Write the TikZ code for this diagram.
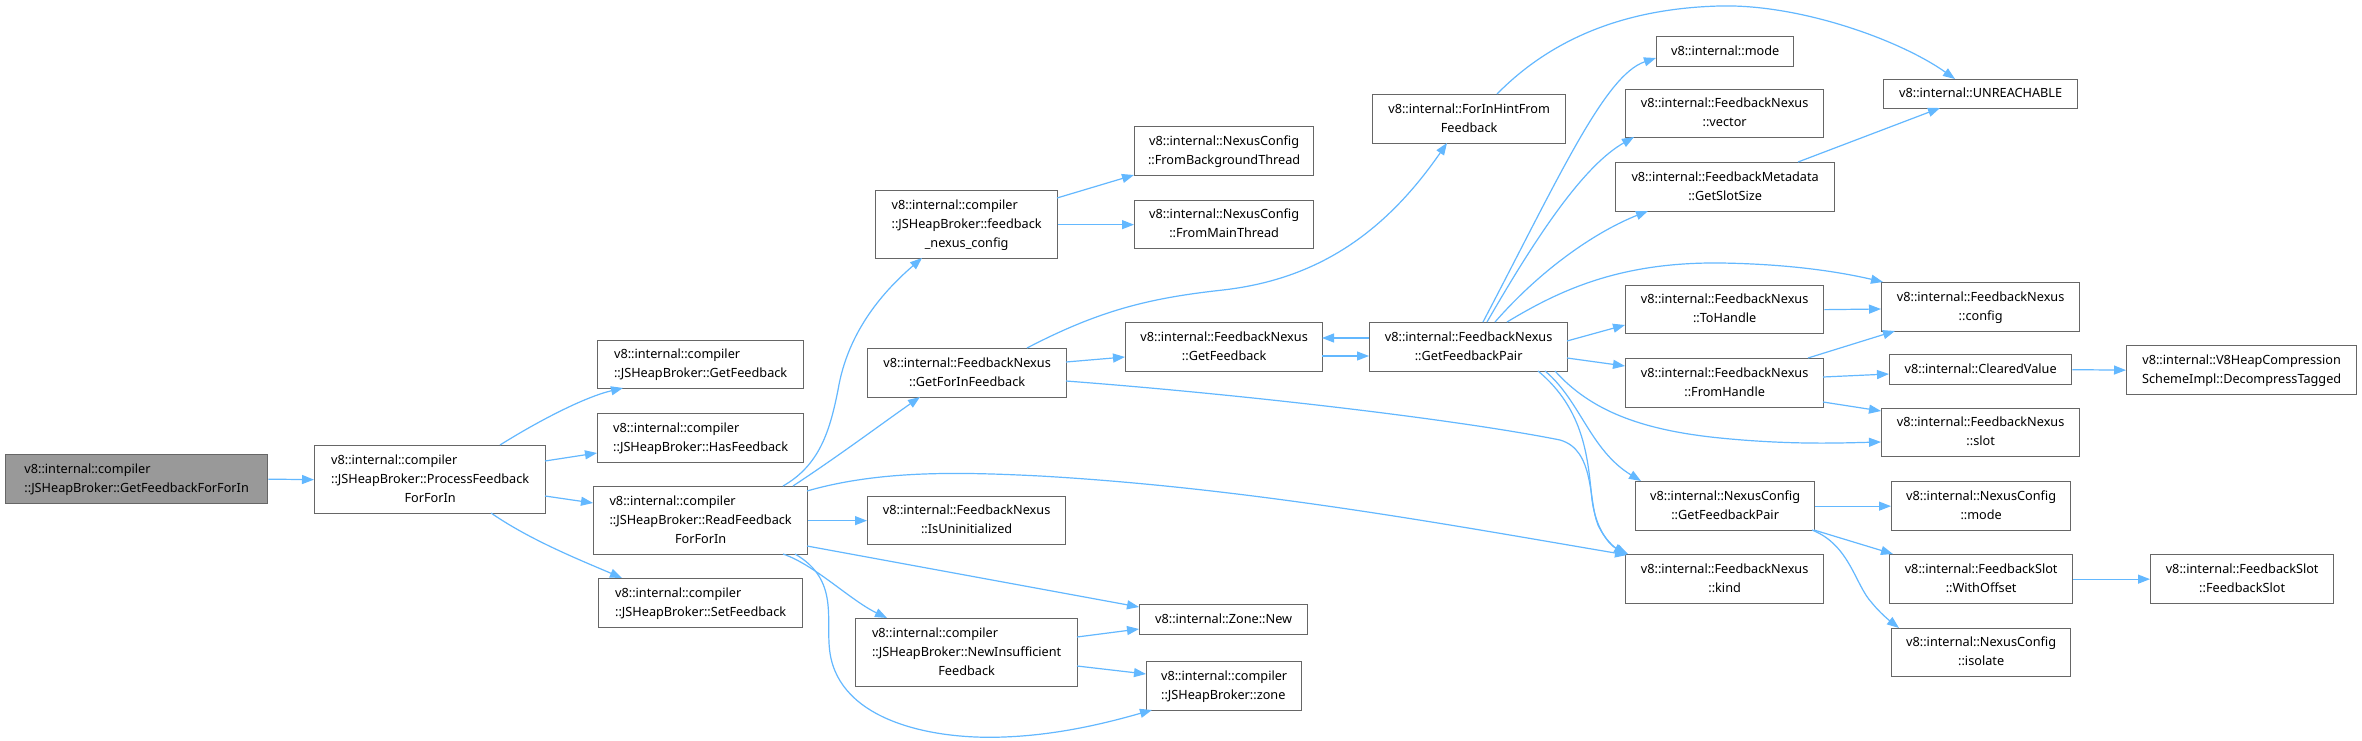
\documentclass[tikz,border=0pt]{standalone}
\usepackage{fontspec}
\setmainfont{Noto Sans}
\usetikzlibrary{arrows.meta,calc}
\definecolor{edgeblue}{HTML}{63B8FF}
\definecolor{boxgray}{HTML}{666666}
\definecolor{rootfill}{HTML}{999999}
\newcommand{\mylines}[1]{\begin{tabular}{@{}c@{}}#1\end{tabular}}
\newcommand{\myleft}[1]{\multicolumn{1}{@{}l@{}}{#1}}
\begin{document}
\begin{tikzpicture}[x=1pt,y=-1pt,
  fbox/.style={draw=boxgray, line width=1.3pt, fill=white, inner sep=0pt, anchor=north west,
    font=\fontsize{12.7}{19}\selectfont, text=black},
  callarrow/.style={draw=edgeblue, line width=1.2pt, line join=miter,
    -{Triangle[length=12pt,width=9pt]}}]
\useasboundingbox[fill=white] (0,0) rectangle (2362,741);
% ---- nodes
\node[fbox, fill=rootfill, minimum width=262pt, minimum height=49pt] (n1) at (5,454) {\mylines{\myleft{v8::internal::compiler}\\::JSHeapBroker::GetFeedbackForForIn}};
\node[fbox, minimum width=231pt, minimum height=68pt] (n2) at (314,445) {\mylines{\myleft{v8::internal::compiler}\\::JSHeapBroker::ProcessFeedback\\ForForIn}};
\node[fbox, minimum width=206pt, minimum height=48pt] (n3) at (597,340) {\mylines{\myleft{v8::internal::compiler}\\::JSHeapBroker::GetFeedback}};
\node[fbox, minimum width=206pt, minimum height=49pt] (n4) at (597,413) {\mylines{\myleft{v8::internal::compiler}\\::JSHeapBroker::HasFeedback}};
\node[fbox, minimum width=214pt, minimum height=68pt] (n5) at (593,486) {\mylines{\myleft{v8::internal::compiler}\\::JSHeapBroker::ReadFeedback\\ForForIn}};
\node[fbox, minimum width=204pt, minimum height=49pt] (n6) at (598,578) {\mylines{\myleft{v8::internal::compiler}\\::JSHeapBroker::SetFeedback}};
\node[fbox, minimum width=182pt, minimum height=68pt] (n7) at (875,190) {\mylines{\myleft{v8::internal::compiler}\\::JSHeapBroker::feedback\\\_nexus\_config}};
\node[fbox, minimum width=179pt, minimum height=49pt] (n8) at (1134,126) {\mylines{v8::internal::NexusConfig\\::FromBackgroundThread}};
\node[fbox, minimum width=179pt, minimum height=48pt] (n9) at (1134,200) {\mylines{v8::internal::NexusConfig\\::FromMainThread}};
\node[fbox, minimum width=199pt, minimum height=49pt] (n10) at (867,348) {\mylines{v8::internal::FeedbackNexus\\::GetForInFeedback}};
\node[fbox, minimum width=197pt, minimum height=49pt] (n11) at (1125,322) {\mylines{v8::internal::FeedbackNexus\\::GetFeedback}};
\node[fbox, minimum width=198pt, minimum height=49pt] (n12) at (1369,322) {\mylines{v8::internal::FeedbackNexus\\::GetFeedbackPair}};
\node[fbox, minimum width=193pt, minimum height=49pt] (n13) at (1372,94) {\mylines{v8::internal::ForInHintFrom\\Feedback}};
\node[fbox, minimum width=198pt, minimum height=48pt] (n14) at (867,496) {\mylines{v8::internal::FeedbackNexus\\::IsUninitialized}};
\node[fbox, minimum width=168pt, minimum height=30pt] (n15) at (1139,604) {\mylines{v8::internal::Zone::New}};
\node[fbox, minimum width=222pt, minimum height=68pt] (n16) at (855,618) {\mylines{\myleft{v8::internal::compiler}\\::JSHeapBroker::NewInsufficient\\Feedback}};
\node[fbox, minimum width=155pt, minimum height=49pt] (n17) at (1146,661) {\mylines{\myleft{v8::internal::compiler}\\\myleft{::JSHeapBroker::zone}}};
\node[fbox, minimum width=137pt, minimum height=30pt] (n18) at (1656,36) {\mylines{v8::internal::mode}};
\node[fbox, minimum width=198pt, minimum height=48pt] (n19) at (1625,89) {\mylines{v8::internal::FeedbackNexus\\::vector}};
\node[fbox, minimum width=219pt, minimum height=49pt] (n20) at (1615,162) {\mylines{v8::internal::FeedbackMetadata\\::GetSlotSize}};
\node[fbox, minimum width=194pt, minimum height=29pt] (n21) at (1883,79) {\mylines{v8::internal::UNREACHABLE}};
\node[fbox, minimum width=198pt, minimum height=49pt] (n22) at (1881,282) {\mylines{v8::internal::FeedbackNexus\\::config}};
\node[fbox, minimum width=198pt, minimum height=48pt] (n23) at (1625,285) {\mylines{v8::internal::FeedbackNexus\\::ToHandle}};
\node[fbox, minimum width=198pt, minimum height=49pt] (n24) at (1625,358) {\mylines{v8::internal::FeedbackNexus\\::FromHandle}};
\node[fbox, minimum width=182pt, minimum height=30pt] (n25) at (1889,354) {\mylines{v8::internal::ClearedValue}};
\node[fbox, minimum width=198pt, minimum height=48pt] (n26) at (1881,408) {\mylines{v8::internal::FeedbackNexus\\::slot}};
\node[fbox, minimum width=179pt, minimum height=49pt] (n27) at (1635,481) {\mylines{v8::internal::NexusConfig\\::GetFeedbackPair}};
\node[fbox, minimum width=179pt, minimum height=49pt] (n28) at (1891,481) {\mylines{v8::internal::NexusConfig\\::mode}};
\node[fbox, minimum width=198pt, minimum height=49pt] (n29) at (1625,554) {\mylines{v8::internal::FeedbackNexus\\::kind}};
\node[fbox, minimum width=183pt, minimum height=49pt] (n30) at (1889,554) {\mylines{v8::internal::FeedbackSlot\\::WithOffset}};
\node[fbox, minimum width=179pt, minimum height=48pt] (n31) at (1891,628) {\mylines{v8::internal::NexusConfig\\::isolate}};
\node[fbox, minimum width=230pt, minimum height=49pt] (n32) at (2126,345) {\mylines{v8::internal::V8HeapCompression\\SchemeImpl::DecompressTagged}};
\node[fbox, minimum width=183pt, minimum height=49pt] (n33) at (2150,554) {\mylines{v8::internal::FeedbackSlot\\::FeedbackSlot}};
% ---- edges
\draw[callarrow] (n1.east) -- (n2.west);
\draw[callarrow] ($(n2.north west)+(186,0)$) .. controls (540,420) and (585,397) .. ($(n3.north west)+(26,48)$);
\draw[callarrow] ($(n2.north west)+(231,16)$) -- ($(n4.north west)+(0,40)$);
\draw[callarrow] ($(n2.north west)+(231,51)$) -- ($(n5.north west)+(0,17)$);
\draw[callarrow] ($(n2.north west)+(177,68)$) .. controls (530,540) and (580,560) .. ($(n6.north west)+(24,0)$);
\draw[callarrow] ($(n5.north west)+(190,0)$) .. controls (820,465) and (830,430) .. (838,390) .. controls (848,330) and (885,290) .. ($(n7.north west)+(47,68)$);
\draw[callarrow] ($(n5.north west)+(200,0)$) .. controls (840,455) and (880,425) .. ($(n10.north west)+(53,49)$);
\draw[callarrow] ($(n5.north west)+(214,5)$) .. controls (880,470) and (960,472) .. (1040,476) .. controls (1250,488) and (1450,525) .. ($(n29.north west)+(2,1)$);
\draw[callarrow] (n5.east) -- (n14.west);
\draw[callarrow] ($(n5.north west)+(214,60)$) -- ($(n15.north west)+(0,3)$);
\draw[callarrow] ($(n5.north west)+(190,68)$) .. controls (815,565) and (850,600) .. ($(n16.north west)+(32,0)$);
\draw[callarrow] ($(n5.north west)+(202,68)$) .. controls (840,580) and (825,620) .. (830,653) .. controls (840,720) and (930,740) .. (1004,737) .. controls (1060,735) and (1110,722) .. ($(n17.north west)+(6,49)$);
\draw[callarrow] ($(n7.north west)+(182,8)$) -- ($(n8.north west)+(0,49)$);
\draw[callarrow] (n7.east) -- (n9.west);
\draw[callarrow] ($(n10.north west)+(160,0)$) .. controls (1100,310) and (1150,298) .. (1223,290) .. controls (1310,280) and (1380,240) .. ($(n13.north west)+(75,49)$);
\draw[callarrow] ($(n10.north west)+(199,14)$) -- ($(n11.north west)+(0,35)$);
\draw[callarrow] ($(n10.north west)+(199,33)$) .. controls (1250,395) and (1460,420) .. (1560,440) .. controls (1595,450) and (1588,500) .. (1598,525) .. controls (1605,540) and (1615,548) .. ($(n29.north west)+(3,0)$);
\draw[callarrow] ($(n11.north west)+(197,34)$) -- ($(n12.north west)+(0,34)$);
\draw[callarrow] ($(n12.north west)+(0,16)$) -- ($(n11.north west)+(197,16)$);
\draw[callarrow] ($(n13.north west)+(125,0)$) .. controls (1560,30) and (1640,8) .. (1720,6) .. controls (1800,4) and (1900,40) .. ($(n21.north west)+(72,0)$);
\draw[callarrow] ($(n12.north west)+(114,0)$) .. controls (1560,175) and (1605,75) .. ($(n18.north west)+(0,22)$);
\draw[callarrow] ($(n12.north west)+(118,0)$) .. controls (1540,230) and (1585,165) .. ($(n19.north west)+(9,48)$);
\draw[callarrow] ($(n12.north west)+(126,0)$) .. controls (1545,265) and (1600,230) .. ($(n20.north west)+(33,49)$);
\draw[callarrow] ($(n12.north west)+(138,0)$) .. controls (1560,290) and (1620,262) .. (1720,263) .. controls (1790,264) and (1840,272) .. ($(n22.north west)+(2,0)$);
\draw[callarrow] ($(n12.north west)+(198,19)$) -- ($(n23.north west)+(0,40)$);
\draw[callarrow] ($(n12.north west)+(198,36)$) -- ($(n24.north west)+(0,8)$);
\draw[callarrow] ($(n12.north west)+(186,49)$) .. controls (1590,410) and (1640,430) .. (1720,438) .. controls (1790,445) and (1840,443) .. ($(n26.north west)+(0,34)$);
\draw[callarrow] ($(n12.north west)+(176,49)$) .. controls (1580,400) and (1590,450) .. ($(n27.north west)+(6,0)$);
\draw[callarrow] ($(n12.north west)+(169,49)$) .. controls (1585,410) and (1588,460) .. (1592,500) .. controls (1596,530) and (1610,545) .. ($(n29.north west)+(1,0)$);
\draw[callarrow] (n27.east) -- (n28.west);
\draw[callarrow] ($(n27.north west)+(179,49)$) -- ($(n30.north west)+(4,0)$);
\draw[callarrow] ($(n27.north west)+(177,49)$) .. controls (1850,545) and (1855,585) .. (1872,603) .. controls (1880,613) and (1890,621) .. ($(n31.north west)+(8,0)$);
\draw[callarrow] ($(n24.north west)+(183,0)$) -- ($(n22.north west)+(14,49)$);
\draw[callarrow] ($(n24.north west)+(198,19)$) -- ($(n25.north west)+(0,20)$);
\draw[callarrow] ($(n24.north west)+(198,44)$) -- ($(n26.north west)+(0,3)$);
\draw[callarrow] (n23.east) -- ($(n22.north west)+(0,27)$);
\draw[callarrow] ($(n20.north west)+(183,0)$) -- ($(n21.north west)+(57,29)$);
\draw[callarrow] (n25.east) -- (n32.west);
\draw[callarrow] (n30.east) -- (n33.west);
\draw[callarrow] ($(n16.north west)+(222,19)$) -- ($(n15.north west)+(0,25)$);
\draw[callarrow] ($(n16.north west)+(222,48)$) -- ($(n17.north west)+(0,13)$);
\end{tikzpicture}
\end{document}
